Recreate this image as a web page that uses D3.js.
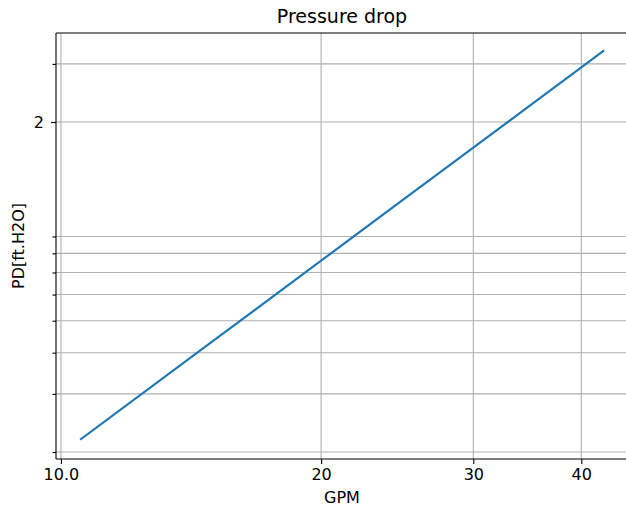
<!DOCTYPE html>
<html>
<head>
<meta charset="utf-8">
<script src="https://cdn.jsdelivr.net/npm/d3@7"></script>
<style>
  html, body { margin: 0; padding: 0; background: #fff; }
  text { font-family: "DejaVu Sans", sans-serif; fill: #000; }
</style>
</head>
<body>
<svg id="chart" width="626" height="510"></svg>
<script>
// Data (log-log)
const gpm = [10.55, 15, 20, 25, 30, 35, 40, 42.4];
const pd  = [0.219, 0.434, 0.760, 1.173, 1.673, 2.259, 2.930, 3.283];

const xTicks = [10, 20, 30, 40];
const xTickLabels = ["10.0", "20", "30", "40"];
const yTicks = [3, 2, 0.9, 0.8, 0.7, 0.6, 0.5, 0.4, 0.3, 0.2];
const yTickLabels = ["", "2", "", "", "", "", "", "", "", ""];

const titleText = "Pressure drop";
const xLabel = "GPM";
const yLabel = "PD[ft.H2O]";

const mLeft = 56, mRight = 628, mTop = 33, mBottom = 459;
const tickFont = 16;

const svg = d3.select("#chart");

const x = d3.scaleLog().domain([9.87, 45.3]).range([mLeft, mRight]);
const y = d3.scaleLog().domain([0.1905, 3.722]).range([mBottom, mTop]);

// grid
const grid = svg.append("g");
grid.selectAll("line.gx").data(xTicks).enter().append("line")
  .attr("x1", d => x(d)).attr("x2", d => x(d))
  .attr("y1", mTop).attr("y2", mBottom)
  .attr("stroke", "#b0b0b0").attr("stroke-width", 1.1);
grid.selectAll("line.gy").data(yTicks).enter().append("line")
  .attr("x1", mLeft).attr("x2", mRight)
  .attr("y1", d => y(d)).attr("y2", d => y(d))
  .attr("stroke", "#b0b0b0").attr("stroke-width", 1.1);

// line
const line = d3.line().x((d, i) => x(gpm[i])).y((d, i) => y(pd[i]));
svg.append("path")
  .datum(gpm)
  .attr("d", line)
  .attr("fill", "none")
  .attr("stroke", "#1f77b4")
  .attr("stroke-width", 2.2)
  .attr("stroke-linecap", "square");

// axes
const xAxis = d3.axisBottom(x).tickValues(xTicks)
  .tickFormat((d, i) => xTickLabels[i]).tickSizeOuter(0).tickSize(5).tickPadding(5);
const gx = svg.append("g").attr("transform", `translate(0,${mBottom})`).call(xAxis);
gx.select(".domain").remove();
gx.selectAll(".tick line").attr("stroke", "#000").attr("stroke-width", 1.1);
gx.selectAll(".tick text").attr("font-size", tickFont).attr("font-family", "DejaVu Sans").attr("fill", "#000");

const yAxis = d3.axisLeft(y).tickValues(yTicks)
  .tickFormat((d, i) => yTickLabels[i]).tickSizeOuter(0).tickPadding(6);
const gy = svg.append("g").attr("transform", `translate(${mLeft},0)`).call(yAxis);
gy.select(".domain").remove();
gy.selectAll(".tick line").attr("stroke", "#000").attr("stroke-width", 1.1)
  .attr("x2", (d, i) => yTickLabels[i] ? -5 : -3.5);
gy.selectAll(".tick text").attr("font-size", tickFont).attr("font-family", "DejaVu Sans").attr("fill", "#000");

// spines
svg.append("line").attr("x1", mLeft).attr("x2", mLeft).attr("y1", mTop).attr("y2", mBottom)
  .attr("stroke", "#000").attr("stroke-width", 1.1);
svg.append("line").attr("x1", mLeft).attr("x2", mRight).attr("y1", mBottom).attr("y2", mBottom)
  .attr("stroke", "#000").attr("stroke-width", 1.1);
svg.append("line").attr("x1", mLeft).attr("x2", mRight).attr("y1", mTop).attr("y2", mTop)
  .attr("stroke", "#000").attr("stroke-width", 1.1);
svg.append("line").attr("x1", mRight).attr("x2", mRight).attr("y1", mTop).attr("y2", mBottom)
  .attr("stroke", "#000").attr("stroke-width", 1.1);

// labels
svg.append("text").attr("x", (mLeft + mRight) / 2).attr("y", 23)
  .attr("text-anchor", "middle").attr("font-size", 19).text(titleText);
svg.append("text").attr("x", (mLeft + mRight) / 2).attr("y", 503)
  .attr("text-anchor", "middle").attr("font-size", tickFont).text(xLabel);
svg.append("text").attr("transform", `translate(24,${(mTop + mBottom) / 2}) rotate(-90)`)
  .attr("text-anchor", "middle").attr("font-size", tickFont).text(yLabel);
</script>
</body>
</html>
